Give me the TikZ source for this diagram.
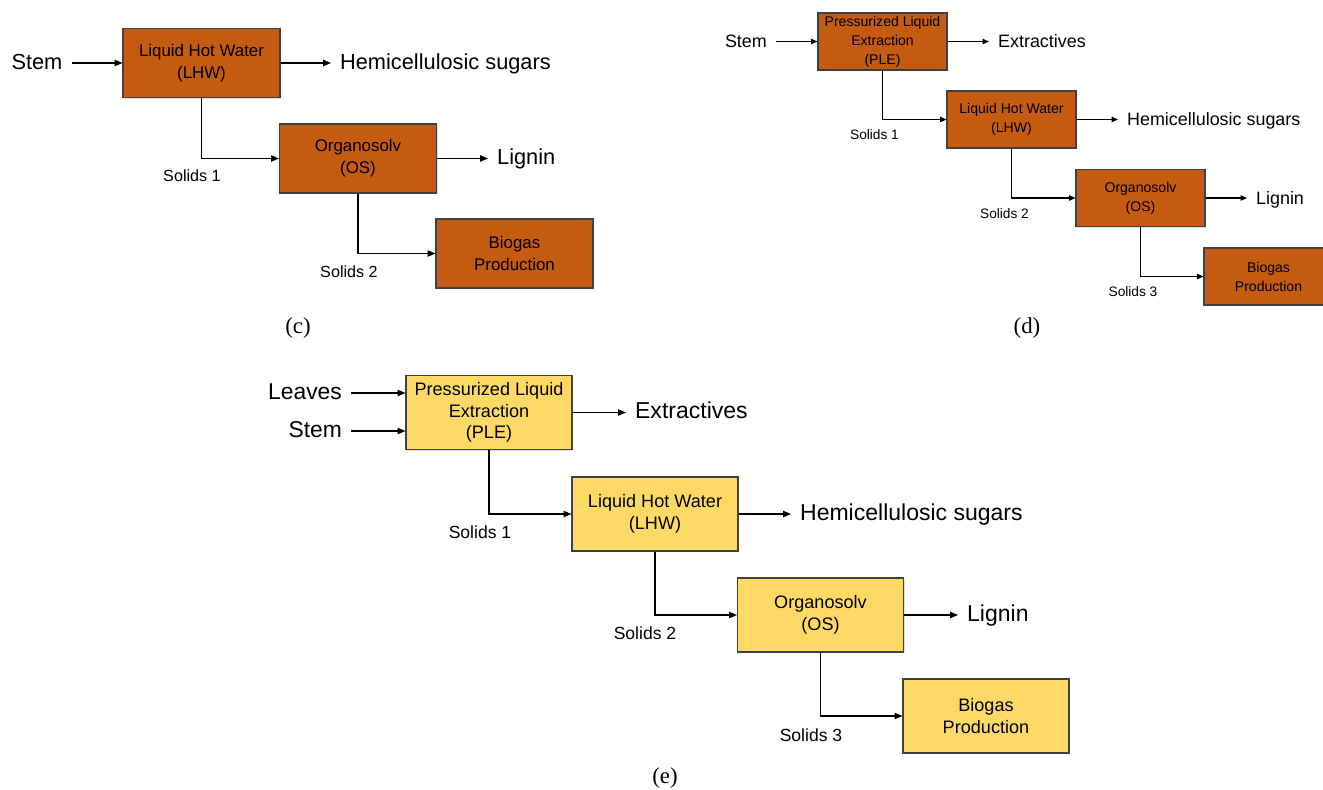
\documentclass[tikz,border=0pt]{standalone}
\usepackage{fontspec}
\setmainfont{Liberation Sans}
\newfontfamily\captionserif{Liberation Serif}
\usepackage{xcolor}
\definecolor{stemOrange}{HTML}{C55A11}
\definecolor{leafYellow}{HTML}{FFD966}
\definecolor{boxGray}{HTML}{404040}
\usepackage{tikz}
\usetikzlibrary{arrows.meta, shadows}
\newcommand{\fsz}[2]{\fontsize{#1}{#2}\selectfont}

\begin{document}
\begin{tikzpicture}[
		x=0.02cm, y=-0.02cm,
		box/.style={
			draw=boxGray,
			line width=0.6pt,
			align=center,
			inner sep=0pt,
			drop shadow={shadow xshift=0.7pt, shadow yshift=-0.7pt, fill=gray, opacity=0.25}
		},
		boxC/.style={box, fill=stemOrange, minimum width=3.14cm, minimum height=1.38cm, font=\fsz{9.6}{12.5}},
		boxD/.style={box, fill=stemOrange, minimum width=2.58cm, minimum height=1.14cm, font=\fsz{8}{10.8}},
		boxE/.style={box, fill=leafYellow, minimum width=3.32cm, minimum height=1.48cm, font=\fsz{10.3}{12.2}},
		lbl/.style={font=\fsz{#1}{#1}, text height=0.716em, text depth=0pt},
		feed/.style={inner xsep=5pt, inner ysep=1pt, anchor=east},
		product/.style={inner xsep=5pt, inner ysep=1pt, anchor=west},
		solids/.style={inner sep=0pt},
		panel/.style={font=\captionserif\fsz{13}{15}},
		arrow/.style={-{Triangle[length=4.5pt, width=3.6pt]}, line width=0.6pt},
		small arrow/.style={arrow, -{Triangle[length=3.6pt, width=3pt]}}
		]
		
		\useasboundingbox (0,0) rectangle (1323,789);
		
		% (c)
		\node[boxC] (lhwc) at (201.5,63) {Liquid Hot Water\\(LHW)};
		\node[boxC] (osc) at (358,158.5) {Organosolv\\(OS)};
		\node[boxC] (bioc) at (514.5,253.5) {Biogas\\Production};
		\node[feed, lbl=12.4] (stemc) at (71.5,63) {Stem};
		\node[product, lbl=12.4] (sugarc) at (331,63) {Hemicellulosic sugars};
		\node[product, lbl=12.4] (ligninc) at (488,158.5) {Lignin};
		\node[solids, lbl=9.2] (s1c) at (192,175) {Solids 1};
		\node[solids, lbl=9.2] (s2c) at (349,271) {Solids 2};
		\node[panel] (capc) at (298,328) {(c)};
		
		\draw[arrow] (stemc) -- (lhwc);
		\draw[arrow] (lhwc) -- (sugarc);
		\draw[arrow] (lhwc) |- (osc);
		\draw[arrow] (osc) -- (ligninc);
		\draw[arrow] (osc) |- (bioc);
		
		% (d)
		\node[boxD] (pled) at (882.5,41.5) {Pressurized Liquid\\Extraction\\(PLE)};
		\node[boxD] (lhwd) at (1011.5,119.5) {Liquid Hot Water\\(LHW)};
		\node[boxD] (osd) at (1140.5,198) {Organosolv\\(OS)};
		\node[boxD] (biod) at (1268.5,276.5) {Biogas\\Production};
		\node[feed, lbl=10.2] (stemd) at (776,41.5) {Stem};
		\node[product, lbl=10.2] (extrd) at (989,41.5) {Extractives};
		\node[product, lbl=10.2] (sugard) at (1118,119.5) {Hemicellulosic sugars};
		\node[product, lbl=10.2] (lignind) at (1247,198) {Lignin};
		\node[solids, lbl=7.8] (s1d) at (874.5,133) {Solids 1};
		\node[solids, lbl=7.8] (s2d) at (1004.5,212) {Solids 2};
		\node[solids, lbl=7.8] (s3d) at (1133,290) {Solids 3};
		\node[panel] (capd) at (1027,328) {(d)};
		
		\draw[small arrow] (stemd) -- (pled);
		\draw[small arrow] (pled) -- (extrd);
		\draw[small arrow] (pled) |- (lhwd);
		\draw[small arrow] (lhwd) -- (sugard);
		\draw[small arrow] (lhwd) |- (osd);
		\draw[small arrow] (osd) -- (lignind);
		\draw[small arrow] (osd) |- (biod);
		
		% (e)
		\node[boxE] (plee) at (489,412.5) {Pressurized Liquid\\Extraction\\(PLE)};
		\node[boxE] (lhwe) at (655,514) {Liquid Hot Water\\(LHW)};
		\node[boxE] (ose) at (820.5,615) {Organosolv\\(OS)};
		\node[boxE] (bioe) at (986,716) {Biogas\\Production};
		\node[feed, lbl=13] (leavese) at (351,393) {Leaves};
		\node[feed, lbl=13] (steme) at (351,431) {Stem};
		\node[product, lbl=13.1] (extre) at (626,412.5) {Extractives};
		\node[product, lbl=13.1] (sugare) at (791,514) {Hemicellulosic sugars};
		\node[product, lbl=13.1] (lignine) at (958,615) {Lignin};
		\node[solids, lbl=10] (s1e) at (480,532) {Solids 1};
		\node[solids, lbl=10] (s2e) at (645,633) {Solids 2};
		\node[solids, lbl=10] (s3e) at (811,735) {Solids 3};
		\node[panel] (cape) at (665,778) {(e)};
		
		\draw[arrow] (leavese) -- (leavese -| plee.west);
		\draw[arrow] (steme) -- (steme -| plee.west);
		\draw[arrow] (plee) -- (extre);
		\draw[arrow] (plee) |- (lhwe);
		\draw[arrow] (lhwe) -- (sugare);
		\draw[arrow] (lhwe) |- (ose);
		\draw[arrow] (ose) -- (lignine);
		\draw[arrow] (ose) |- (bioe);
		
	\end{tikzpicture}
\end{document}
